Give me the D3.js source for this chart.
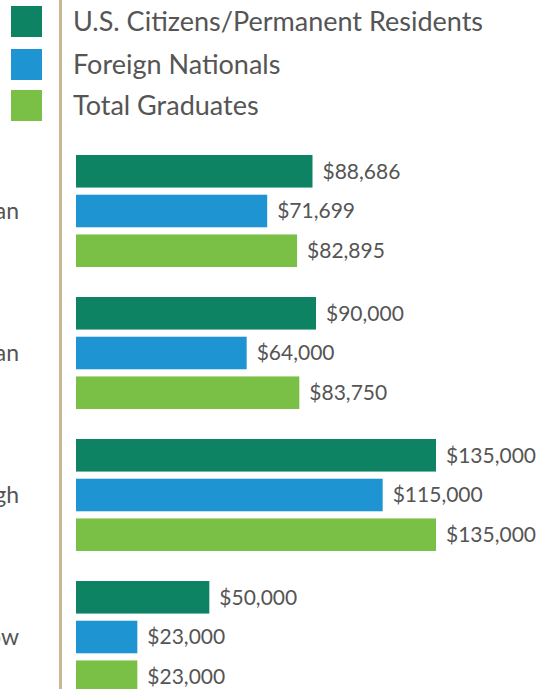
<!DOCTYPE html>
<html>
<head>
<meta charset="utf-8">
<script src="https://cdn.jsdelivr.net/npm/d3@7"></script>
<style>
  body { margin: 0; background: #fff; }
  svg { display: block; font-family: Lato, "Open Sans", sans-serif; }
</style>
</head>
<body>
<div id="chart"></div>
<script>
// data
const categories = ['Mean', 'Median', 'High', 'Low'];
const seriesNames = ['U.S. Citizens/Permanent Residents', 'Foreign Nationals', 'Total Graduates'];
const citizens = [88686, 90000, 135000, 50000];
const foreign = [71699, 64000, 115000, 23000];
const totals = [82895, 83750, 135000, 23000];
const colors = ['#0d8363', '#1e94d2', '#7bc046'];

const series = [citizens, foreign, totals].map((values, i) => ({
    name: seriesNames[i],
    values: values
}));

drawBars();

function drawBars() {
    const width = 543;
    const height = 689;

    const svg = d3.select('#chart')
        .append('svg')
            .attr('width', width)
            .attr('height', height)
            .attr('viewBox', [0, 0, width, height]);

    // scales
    const x = d3.scaleLinear()
        .domain([0, 135000])
        .range([76, 436]);
    const y = d3.scaleBand()
        .domain(categories)
        .range([155, 155 + 142 * categories.length]);
    const yInner = d3.scaleBand()
        .domain(seriesNames)
        .range([0, 112])
        .paddingInner(0.18);
    const color = d3.scaleOrdinal()
        .domain(seriesNames)
        .range(colors);

    // divider
    svg.append('line')
        .attr('x1', 60.5).attr('x2', 60.5)
        .attr('y1', 0).attr('y2', height)
        .attr('stroke', '#c9b794')
        .attr('stroke-width', 3);

    // legend
    const legend = svg.append('g')
        .selectAll('g')
        .data(seriesNames)
        .join('g')
            .attr('transform', (d, i) => `translate(0, ${[6, 49, 90][i]})`);
    legend.append('rect')
        .attr('x', 11)
        .attr('width', 31)
        .attr('height', 31)
        .attr('fill', d => color(d));
    legend.append('text')
        .attr('x', 73)
        .attr('y', 16)
        .attr('dy', '0.35em')
        .attr('fill', '#555')
        .style('font-size', '27px')
        .text(d => d);

    // category labels (cut off at the left edge, as in the original)
    svg.append('g')
        .selectAll('text')
        .data(categories)
        .join('text')
            .attr('x', 19)
            .attr('y', d => y(d) + 56)
            .attr('dy', '0.35em')
            .attr('text-anchor', 'end')
            .attr('fill', '#555')
            .style('font-size', '23px')
            .text(d => d);

    // bars
    const rows = svg.append('g')
        .selectAll('g')
        .data(categories)
        .join('g')
            .attr('transform', d => `translate(0, ${y(d)})`);

    const cells = rows.selectAll('g')
        .data((c, i) => series.map(s => ({name: s.name, value: s.values[i]})))
        .join('g');

    cells.append('rect')
        .attr('x', x(0))
        .attr('y', d => yInner(d.name))
        .attr('width', d => x(d.value) - x(0))
        .attr('height', yInner.bandwidth())
        .attr('fill', d => color(d.name));

    cells.append('text')
        .attr('x', d => x(d.value) + 10)
        .attr('y', d => yInner(d.name) + yInner.bandwidth() / 2)
        .attr('dy', '0.35em')
        .attr('fill', '#555')
        .style('font-size', '21px')
        .text(d => '$' + d3.format(',')(d.value));
}
</script>
</body>
</html>
